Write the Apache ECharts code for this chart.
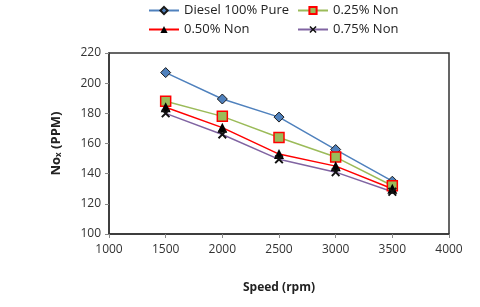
<!DOCTYPE html>
<html><head><meta charset="utf-8">
<script src="https://cdn.jsdelivr.net/npm/echarts@6/dist/echarts.min.js"></script>
<style>html,body{margin:0;padding:0;background:#fff}#c{width:480px;height:307px}</style>
</head><body><div id="c"></div>
<script>
const speeds = [1500, 2000, 2500, 3000, 3500];
const diesel = [207, 189.5, 177.5, 156, 135];
const non025 = [188, 178, 164, 151, 132];
const non050 = [184, 170.5, 153, 145, 130];
const non075 = [180, 166, 149.5, 141, 128];
const names = ['Diesel 100% Pure', '0.25% Non', '0.50% Non', '0.75% Non'];

const xPath = 'path://M0,1.5L1.5,0L5,3.5L8.5,0L10,1.5L6.5,5L10,8.5L8.5,10L5,6.5L1.5,10L0,8.5L3.5,5Z';
const font = 'Open Sans, Liberation Sans, sans-serif';
function pairs(v){ return speeds.map((s,i)=>[s,v[i]]); }
const chart = echarts.init(document.getElementById('c'));
const legendPos = [[143,-1],[292,-1],[143,18],[292,18]];
chart.setOption({
  animation:false,
  legend: names.map((n,i)=>({data:[n], left:legendPos[i][0], top:legendPos[i][1], itemWidth:30, itemHeight:9, itemGap:4,
    textStyle:{fontFamily:font, fontSize:13, color:'#222'}})),
  grid:{left:109, right:31, top:53, bottom:73, show:true, borderColor:'#333', borderWidth:1.5},
  xAxis:{type:'value', min:1000, max:4000, interval:500,
    name:'Speed (rpm)', nameLocation:'middle', nameGap:48,
    nameTextStyle:{fontFamily:font, fontSize:12, fontWeight:'bold', color:'#222'},
    axisLine:{show:true, lineStyle:{color:'#333', width:1.5}},
    axisTick:{show:true, length:4, lineStyle:{color:'#888'}},
    axisLabel:{fontFamily:font, fontSize:12, color:'#333', margin:10, formatter:v=>String(v)},
    splitLine:{show:false}},
  yAxis:{type:'value', min:100, max:220, interval:20,
    name:'{a|No}{b|x}{a| (PPM)}', nameLocation:'middle', nameGap:46, nameRotate:90,
    nameTextStyle:{rich:{a:{fontFamily:font, fontSize:13, fontWeight:'bold', color:'#222'},
                         b:{fontFamily:font, fontSize:8, fontWeight:'bold', color:'#222', verticalAlign:'bottom', padding:[6,0,0,0]}}},
    axisLine:{show:true, lineStyle:{color:'#333', width:1.5}},
    axisTick:{show:true, length:4, lineStyle:{color:'#888'}},
    axisLabel:{fontFamily:font, fontSize:12, color:'#333', margin:8},
    splitLine:{show:false}},
  series:[
    {name:names[0], type:'line', data:pairs(diesel), symbol:'diamond', symbolSize:10,
      lineStyle:{color:'#4F81BD', width:1.5}, itemStyle:{color:'#4F81BD', borderColor:'#1a1a1a', borderWidth:1}},
    {name:names[1], type:'line', data:pairs(non025), symbol:'rect', symbolSize:10,
      lineStyle:{color:'#9BBB59', width:1.5}, itemStyle:{color:'#9BBB59', borderColor:'#FF0000', borderWidth:1.5}},
    {name:names[2], type:'line', data:pairs(non050), symbol:'triangle', symbolSize:10,
      lineStyle:{color:'#FF0000', width:1.5}, itemStyle:{color:'#000', borderColor:'#000', borderWidth:0}},
    {name:names[3], type:'line', data:pairs(non075), symbol:xPath, symbolSize:9,
      lineStyle:{color:'#8064A2', width:1.5}, itemStyle:{color:'#111', borderWidth:0}}
  ]
});
</script></body></html>
